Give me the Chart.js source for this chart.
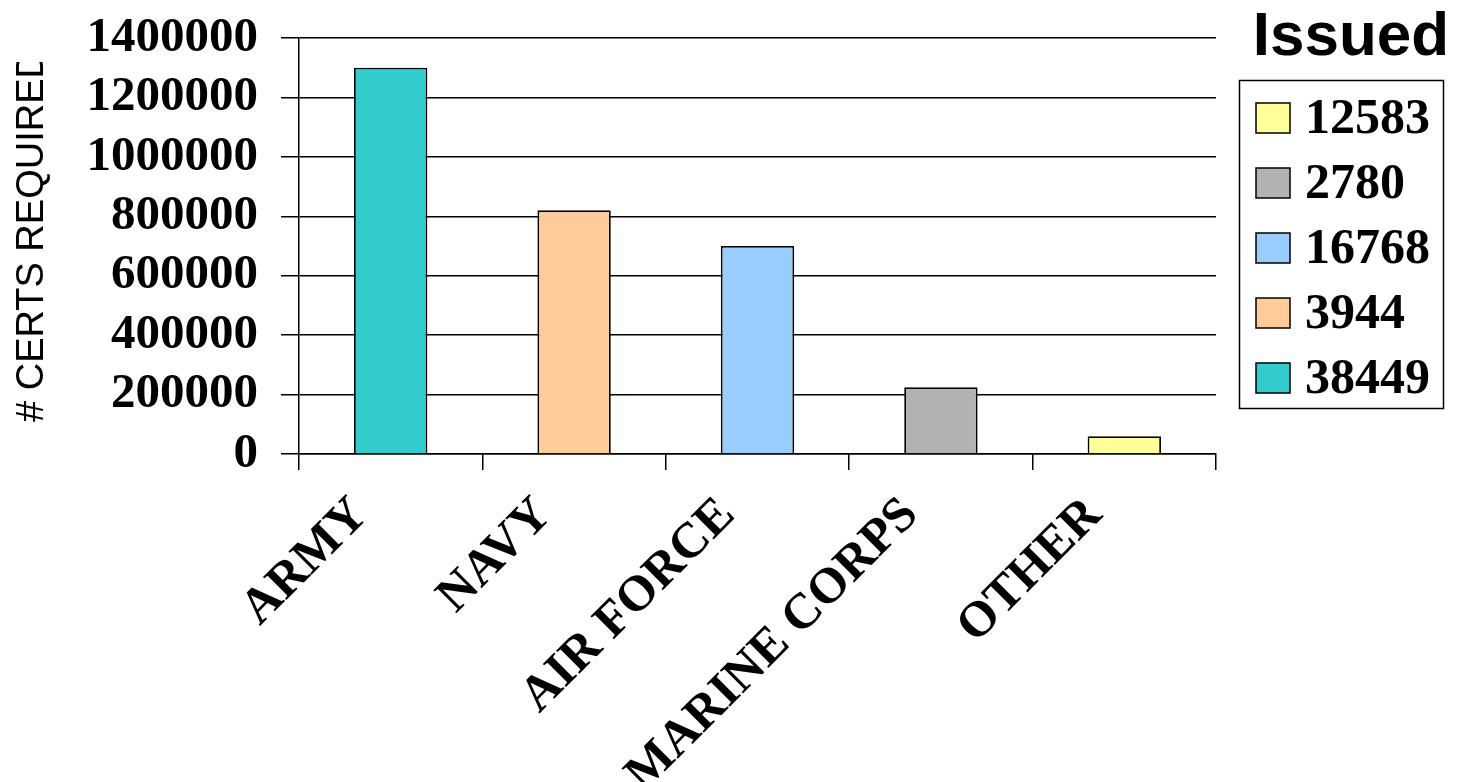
<!DOCTYPE html>
<html>
<head>
<meta charset="utf-8">
<script src="https://cdn.jsdelivr.net/npm/chart.js@4/dist/chart.umd.min.js"></script>
<style>
html,body{margin:0;padding:0;background:#fff;}
#wrap{width:1463px;height:782px;position:relative;}
</style>
</head>
<body>
<div id="wrap"><canvas id="c" width="1463" height="782"></canvas></div>
<script>
// ---- data ----
const categories = ['ARMY', 'NAVY', 'AIR FORCE', 'MARINE CORPS', 'OTHER'];
const certsRequired = [1300000, 820000, 700000, 225000, 60000];
const certsIssued = [38449, 3944, 16768, 2780, 12583];
const barColors = ['#33CCCC', '#FFCC99', '#99CCFF', '#B2B2B2', '#FFFF99'];
const yTicks = [0, 200000, 400000, 600000, 800000, 1000000, 1200000, 1400000];
const yTitle = '# CERTS REQUIRED';
const legendTitle = 'Issued';

const serifFamily = '"Liberation Serif", "Times New Roman", serif';

const yTitlePlugin = {
  id: 'yTitle',
  afterDraw(chart) {
    const ctx = chart.ctx;
    ctx.save();
    ctx.beginPath();
    ctx.rect(0, 62, 80, 500);
    ctx.clip();
    ctx.translate(43, 422);
    ctx.rotate(-Math.PI / 2);
    ctx.font = '38px "Liberation Sans", Arial, sans-serif';
    ctx.fillStyle = '#000';
    ctx.textAlign = 'left';
    ctx.textBaseline = 'alphabetic';
    ctx.fillText(yTitle, 0, 0);
    ctx.restore();
  }
};

const legendPlugin = {
  id: 'customLegend',
  afterDraw(chart) {
    const ctx = chart.ctx;
    ctx.save();
    ctx.fillStyle = '#000';
    ctx.font = 'bold 62px "Liberation Sans", Arial, sans-serif';
    ctx.textAlign = 'center';
    ctx.textBaseline = 'alphabetic';
    ctx.fillText(legendTitle, 1351, 55);
    ctx.lineWidth = 1.5;
    ctx.strokeStyle = '#000';
    ctx.strokeRect(1239.5, 80.5, 204, 328);
    const n = categories.length;
    ctx.font = 'bold 50px ' + serifFamily;
    ctx.textAlign = 'left';
    ctx.textBaseline = 'middle';
    for (let k = 0; k < n; k++) {
      const i = n - 1 - k;
      const cy = 118 + k * 65;
      ctx.fillStyle = barColors[i];
      ctx.fillRect(1256, cy - 15, 34, 30);
      ctx.lineWidth = 1.5;
      ctx.strokeRect(1256, cy - 15, 34, 30);
      ctx.fillStyle = '#000';
      ctx.fillText(String(certsIssued[i]), 1305, cy + 2);
    }
    ctx.restore();
  }
};

new Chart(document.getElementById('c'), {
  type: 'bar',
  data: {
    labels: categories,
    datasets: [{
      label: legendTitle,
      data: certsRequired,
      backgroundColor: barColors,
      borderColor: '#000',
      borderWidth: 1.8,
      barPercentage: 0.8,
      categoryPercentage: 0.5
    }]
  },
  options: {
    responsive: false,
    animation: false,
    devicePixelRatio: 1,
    layout: {padding: {top: 38, right: 247, bottom: 0, left: 0}},
    plugins: {legend: {display: false}, tooltip: {enabled: false}, title: {display: false}},
    scales: {
      x: {
        grid: {display: true, offset: true, drawOnChartArea: false, drawTicks: true, tickLength: 16, color: '#000', lineWidth: 1.5},
        border: {display: true, color: '#000', width: 1.5},
        ticks: {color: '#000', font: {family: serifFamily, weight: 'bold', size: 50}, minRotation: 45, maxRotation: 45, autoSkip: false, padding: 16, labelOffset: -30},
        afterFit(scale) { scale.height = 782 - 454; scale.paddingLeft = 0; scale.paddingRight = 0; }
      },
      y: {
        min: 0, max: 1400000,
        afterBuildTicks(scale) { scale.ticks = yTicks.map(v => ({value: v})); },
        grid: {color: '#000', lineWidth: 1.5, tickLength: 18, drawTicks: true},
        border: {display: true, color: '#000', width: 1.5},
        ticks: {color: '#000', font: {family: serifFamily, weight: 'bold', size: 49}, padding: 23, autoSkip: false, callback: v => String(v)},
        afterFit(scale) { scale.width = 299; scale.paddingTop = 0; scale.paddingBottom = 0; }
      }
    }
  },
  plugins: [yTitlePlugin, legendPlugin]
});
</script>
</body>
</html>
